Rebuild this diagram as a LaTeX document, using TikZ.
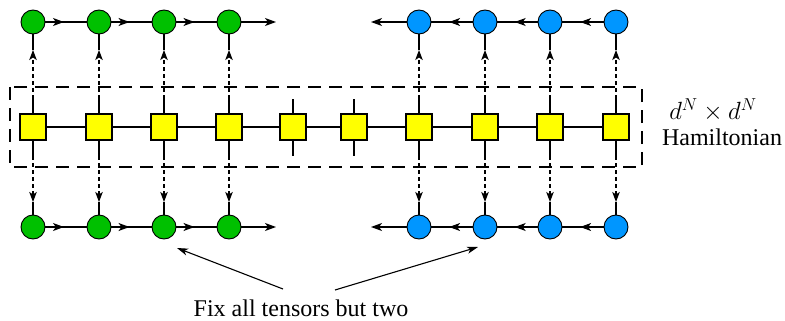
\documentclass[tikz,border=0pt]{standalone}
\usepackage{fontspec}
\setmainfont{Liberation Serif}
\usetikzlibrary{arrows.meta,calc}

\definecolor{siteGreen}{RGB}{0,192,0}
\definecolor{siteBlue}{RGB}{0,150,255}
\definecolor{mpoYellow}{RGB}{255,255,0}

\tikzset{
  gsite/.style={circle,draw=black,line width=0.9pt,fill=siteGreen,minimum size=24pt,inner sep=0pt},
  bsite/.style={circle,draw=black,line width=0.9pt,fill=siteBlue,minimum size=24pt,inner sep=0pt},
  mpo/.style={rectangle,draw=black,line width=1.7pt,fill=mpoYellow,minimum size=26pt,inner sep=0pt},
  bond/.style={line width=1.1pt},
  flow/.style={line width=1.1pt,-{Stealth[length=11pt,width=8pt,inset=3pt]}},
  link/.style={line width=1.1pt,dash pattern=on 4pt off 3pt,-{Stealth[length=10pt,width=7.5pt,inset=2.5pt]}},
  frame/.style={line width=2.8pt,dash pattern=on 13pt off 8pt},
  pointer/.style={line width=1.1pt,-{Stealth[length=11pt,width=7pt,inset=3pt]}},
  label/.style={font=\fontsize{24}{28}\selectfont,inner sep=0pt}
}

\begin{document}
\begin{tikzpicture}[x=1pt,y=-1pt]
  \useasboundingbox (0,0) rectangle (785,321);

  % Hamiltonian frame
  \draw[frame] (10,87) rectangle (642,167);

  % MPO tensors
  \foreach \i/\x in {1/33,2/99,3/164,4/229,5/293,6/354,7/419,8/485,9/550,10/616}{
    \node[mpo] (s\i) at (\x,127) {};
    \coordinate (su\i) at (\x,99);
    \coordinate (sd\i) at (\x,156);
  }
  \foreach \i [count=\j from 2] in {1,...,9}{
    \draw[bond] (s\i.east) -- (s\j.west);
  }
  \foreach \i in {1,...,10}{
    \draw[bond] (s\i.north) -- (su\i);
    \draw[bond] (s\i.south) -- (sd\i);
  }

  % MPS sites, top and bottom
  \foreach \i/\x in {1/33,2/99,3/164,4/229}{
    \node[gsite] (gt\i) at (\x,22) {};
    \node[gsite] (gb\i) at (\x,227) {};
  }
  \foreach \i/\x in {7/419,8/485,9/550,10/616}{
    \node[bsite] (bt\i) at (\x,22) {};
    \node[bsite] (bb\i) at (\x,227) {};
  }

  % left-canonical chain: arrows point right
  \foreach \r in {t,b}{
    \foreach \i [count=\j from 2] in {1,2,3}{
      \draw[bond] (g\r\i.east) -- (g\r\j.west);
      \draw[flow] (g\r\i.east) -- ($(g\r\i.east)!0.45!(g\r\j.west)$);
    }
  }
  \coordinate (gtEnd) at (276,22);
  \coordinate (gbEnd) at (276,227);
  \draw[flow] (gt4.east) -- (gtEnd);
  \draw[flow] (gb4.east) -- (gbEnd);

  % right-canonical chain: arrows point left
  \foreach \r in {t,b}{
    \foreach \i [count=\j from 8] in {7,8,9}{
      \draw[bond] (b\r\j.west) -- (b\r\i.east);
      \draw[flow] (b\r\j.west) -- ($(b\r\i.east)!0.43!(b\r\j.west)$);
    }
  }
  \coordinate (btEnd) at (371,22);
  \coordinate (bbEnd) at (371,227);
  \draw[flow] (bt7.west) -- (btEnd);
  \draw[flow] (bb7.west) -- (bbEnd);

  % physical legs joined to the MPO
  \foreach \i/\c in {1/g,2/g,3/g,4/g,7/b,8/b,9/b,10/b}{
    \coordinate (tu\i) at ($(su\i)+(0,-49)$);
    \coordinate (td\i) at ($(sd\i)+(0,46)$);
    \draw[bond] (\c t\i.south) -- (tu\i);
    \draw[link] (su\i) -- (tu\i);
    \draw[bond] (\c b\i.north) -- (td\i);
    \draw[link] (sd\i) -- (td\i);
  }

  % labels
  \node[label] (dim) at (713,110) {$d^N\times d^N$};
  \node[label,anchor=base] (ham) at (722,145) {Hamiltonian};
  \node[label,anchor=base] (fix) at (301,316) {Fix all tensors but two};
  \coordinate (fixL) at (283,289);
  \coordinate (fixR) at (335,290);
  \coordinate (tipL) at (177,248);
  \coordinate (tipR) at (478,247);
  \draw[pointer] (fixL) -- (tipL);
  \draw[pointer] (fixR) -- (tipR);
\end{tikzpicture}
\end{document}
